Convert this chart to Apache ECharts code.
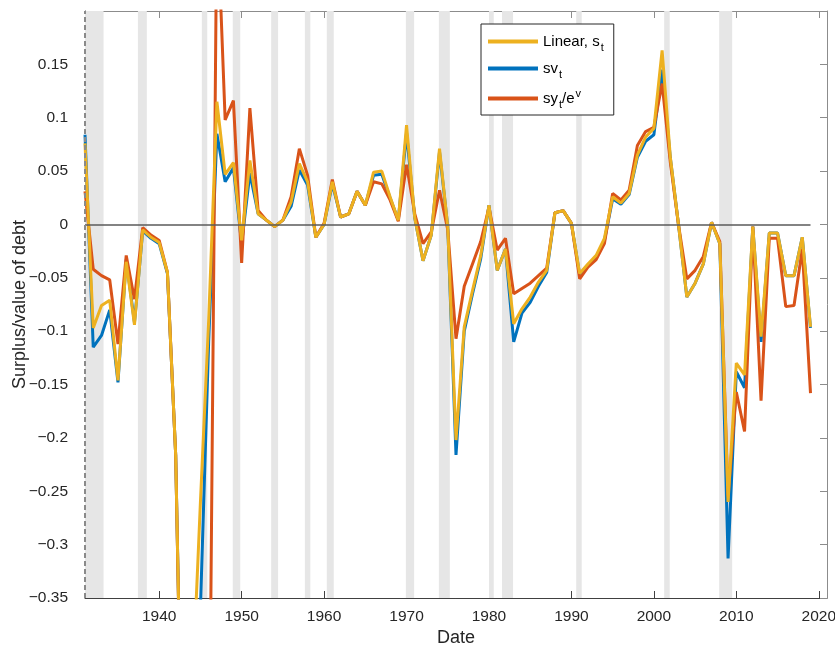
<!DOCTYPE html>
<html><head><meta charset="utf-8">
<script src="https://cdn.jsdelivr.net/npm/echarts@6/dist/echarts.min.js"></script>
<style>html,body{margin:0;padding:0;background:#fff}#c{width:835px;height:647px}</style>
</head><body><div id="c"></div>
<script>
const years = [1931,1932,1933,1934,1935,1936,1937,1938,1939,1940,
1941,1942,1943,1944,1945,1946,1947,1948,1949,1950,
1951,1952,1953,1954,1955,1956,1957,1958,1959,1960,
1961,1962,1963,1964,1965,1966,1967,1968,1969,1970,
1971,1972,1973,1974,1975,1976,1977,1978,1979,1980,
1981,1982,1983,1984,1985,1986,1987,1988,1989,1990,
1991,1992,1993,1994,1995,1996,1997,1998,1999,2000,
2001,2002,2003,2004,2005,2006,2007,2008,2009,2010,
2011,2012,2013,2014,2015,2016,2017,2018,2019];

const linearS = [0.076,-0.097,-0.076,-0.071,-0.146,-0.035,-0.094,-0.005,-0.012,-0.017,
-0.045,-0.216,-0.61,-0.44,-0.26,-0.09,0.115,0.047,0.058,-0.015,
0.060,0.010,0.004,-0.002,0.004,0.021,0.057,0.040,-0.012,0.000,
0.040,0.007,0.010,0.031,0.018,0.049,0.050,0.026,0.004,0.093,
0.006,-0.034,-0.010,0.071,-0.002,-0.202,-0.096,-0.062,-0.029,0.018,
-0.043,-0.023,-0.093,-0.079,-0.068,-0.054,-0.043,0.011,0.013,0.001,
-0.046,-0.037,-0.029,-0.013,0.026,0.020,0.029,0.065,0.082,0.090,
0.163,0.063,-0.001,-0.068,-0.055,-0.037,0.002,-0.018,-0.260,-0.130,
-0.141,-0.002,-0.105,-0.008,-0.008,-0.048,-0.048,-0.012,-0.096];

const svT = [0.084,-0.115,-0.104,-0.080,-0.148,-0.033,-0.092,-0.006,-0.013,-0.018,
-0.046,-0.216,-0.61,-0.50,-0.36,-0.11,0.085,0.040,0.053,-0.018,
0.048,0.010,0.004,-0.002,0.004,0.017,0.051,0.037,-0.012,0.000,
0.038,0.007,0.010,0.031,0.018,0.046,0.047,0.025,0.004,0.086,
0.006,-0.034,-0.010,0.068,-0.002,-0.216,-0.100,-0.065,-0.032,0.018,
-0.043,-0.023,-0.110,-0.083,-0.073,-0.058,-0.045,0.011,0.013,0.001,
-0.047,-0.038,-0.031,-0.015,0.024,0.019,0.028,0.063,0.078,0.084,
0.145,0.062,-0.001,-0.068,-0.055,-0.037,0.002,-0.018,-0.313,-0.138,
-0.153,-0.002,-0.110,-0.008,-0.008,-0.048,-0.048,-0.012,-0.097];

const syT = [0.031,-0.042,-0.048,-0.052,-0.112,-0.029,-0.070,-0.003,-0.010,-0.015,
-0.045,-0.216,-0.62,-0.60,-0.56,-0.59,0.30,0.098,0.116,-0.036,
0.109,0.013,0.004,-0.002,0.004,0.026,0.071,0.046,-0.012,0.001,
0.042,0.007,0.010,0.031,0.018,0.040,0.038,0.023,0.003,0.056,
0.010,-0.018,-0.007,0.032,-0.005,-0.107,-0.058,-0.037,-0.016,0.016,
-0.024,-0.013,-0.065,-0.060,-0.055,-0.048,-0.041,0.011,0.013,0.001,
-0.051,-0.040,-0.033,-0.018,0.029,0.023,0.032,0.074,0.087,0.091,
0.132,0.058,-0.001,-0.051,-0.043,-0.030,0.002,-0.016,-0.255,-0.157,
-0.194,-0.002,-0.165,-0.013,-0.013,-0.077,-0.076,-0.023,-0.158];

const recessionStart = [1929.67,1937.42,1945.17,1948.92,1953.58,1957.67,1960.33,1969.92,1973.92,1980.0,1981.58,1990.58,2001.25,2007.92];
const recessionEnd   = [1933.25,1938.50,1945.83,1949.83,1954.42,1958.33,1961.17,1970.92,1975.25,1980.58,1982.92,1991.25,2001.92,2009.50];

const seriesNames = ['Linear, s_t','sv_t','sy_t/e^v'];
const legendLabels = {'Linear, s_t':'Linear, s{sub|t}','sv_t':'sv{sub|t}','sy_t/e^v':'sy{sub|t}/e{sup|v}'};

const FONT = '"Liberation Sans", Arial, Helvetica, sans-serif';
const dark = '#404040', light = '#8c8c8c', txt = '#262626';

function pairs(vals){ return years.map((y,i)=>[y, vals[i]]); }
function lineSeries(name, vals, color, z){
  return {name, type:'line', data:pairs(vals), symbol:'none', showSymbol:false, z,
    lineStyle:{color, width:3}, itemStyle:{color}, clip:true, silent:true};
}

const chart = echarts.init(document.getElementById('c'), null, {renderer:'canvas'});
chart.setOption({
  animation:false,
  grid:{left:85, right:8, top:11, bottom:49, containLabel:false, outerBoundsMode:'none'},
  legend:{
    data:seriesNames, orient:'vertical', left:481, top:24,
    itemWidth:50, itemHeight:4, itemGap:8, icon:'rect', selectedMode:false,
    padding:[10,10,5,7], borderColor:'#262626', borderWidth:1, backgroundColor:'#fff',
    formatter:n=>legendLabels[n],
    textStyle:{fontSize:15, color:'#000', fontFamily:FONT,
      rich:{sub:{fontSize:11, fontFamily:FONT, padding:[12,0,0,1]}, sup:{fontSize:11, fontFamily:FONT, padding:[0,0,10,1]}}}
  },
  xAxis:[{
    type:'value', min:1931, max:2021, splitNumber:9,
    name:'Date', nameLocation:'middle', nameGap:31, nameMoveOverlap:false,
    nameTextStyle:{fontSize:18, color:txt, fontFamily:FONT},
    axisLine:{show:true, onZero:false, lineStyle:{color:dark, width:1}},
    axisTick:{show:true, inside:true, length:7, lineStyle:{color:dark}},
    axisLabel:{margin:11, fontSize:15.5, color:txt, fontFamily:FONT, showMinLabel:false, showMaxLabel:false,
      formatter:v=>(Math.round(v)%10===0 ? String(Math.round(v)) : '')},
    splitLine:{show:false}
  },{
    type:'value', position:'top', min:1931, max:2021, splitNumber:9,
    axisLine:{show:true, onZero:false, lineStyle:{color:light, width:1}},
    axisTick:{show:true, inside:true, length:7, lineStyle:{color:light}},
    axisLabel:{show:false}, splitLine:{show:false}
  }],
  yAxis:[{
    type:'value', min:-0.35, max:0.2, interval:0.05,
    name:'Surplus/value of debt', nameLocation:'middle', nameGap:56, nameMoveOverlap:false,
    nameTextStyle:{fontSize:18, color:txt, fontFamily:FONT},
    axisLine:{show:true, onZero:false, lineStyle:{color:dark, width:1}},
    axisTick:{show:true, inside:true, length:7, lineStyle:{color:dark}},
    axisLabel:{margin:17, fontSize:15.5, color:txt, fontFamily:FONT, showMaxLabel:false,
      formatter:v=>String(parseFloat(v.toFixed(2))).replace('-','\u2212')},
    splitLine:{show:false}
  },{
    type:'value', position:'right', min:-0.35, max:0.2, interval:0.05,
    axisLine:{show:true, onZero:false, lineStyle:{color:light, width:1}},
    axisTick:{show:true, inside:true, length:7, lineStyle:{color:light}},
    axisLabel:{show:false}, splitLine:{show:false}
  }],
  series:[
    {name:'bands', type:'line', data:[], z:1, silent:true,
      markArea:{silent:true, itemStyle:{color:'#e6e6e6'},
        data:recessionStart.map((s,i)=>[{xAxis:s},{xAxis:recessionEnd[i]}])},
      markLine:{silent:true, symbol:'none', label:{show:false},
        lineStyle:{color:'#5a5a5a', width:1.5, type:'solid'},
        data:[
          [{coord:[years[0],0]},{coord:[years[years.length-1],0]}],
          {xAxis:years[0], lineStyle:{color:'#8a8a8a', width:2, type:[5,3]}}
        ]}
    },
    lineSeries(seriesNames[1], svT, '#0072BD', 2),
    lineSeries(seriesNames[2], syT, '#D95319', 3),
    lineSeries(seriesNames[0], linearS, '#EDB120', 4)
  ]
});
</script></body></html>
